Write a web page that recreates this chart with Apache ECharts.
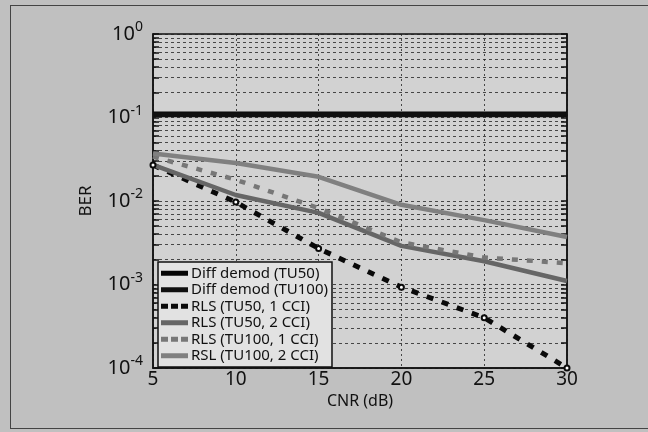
<!DOCTYPE html>
<html>
<head>
<meta charset="utf-8">
<script src="https://cdn.jsdelivr.net/npm/echarts@6/dist/echarts.min.js"></script>
<style>
  html, body { margin: 0; padding: 0; background: #c0c0c0; }
  #frame { position: absolute; left: 10px; top: 5px; width: 660px; height: 422px; border: 1px solid #444; }
  #chart { position: absolute; left: 0; top: 0; width: 648px; height: 432px; }
</style>
</head>
<body>
<div id="frame"></div>
<div id="chart"></div>
<script>
  // CNR in dB
  const cnr = [5, 10, 15, 20, 25, 30];

  // BER values
  const diffTU50 = [0.11, 0.11, 0.11, 0.11, 0.11, 0.11];
  const diffTU100 = [0.108, 0.108, 0.108, 0.108, 0.108, 0.108];
  const rlsTU50cci1 = [0.027, 0.0097, 0.0027, 0.00093, 0.0004, 0.0001];
  const rlsTU50cci2 = [0.027, 0.0118, 0.0072, 0.0029, 0.0019, 0.0011];
  const rlsTU100cci1 = [0.034, 0.018, 0.0082, 0.0032, 0.0021, 0.0018];
  const rslTU100cci2 = [0.037, 0.0285, 0.0195, 0.009, 0.0059, 0.0037];

  const names = [
    "Diff demod (TU50)",
    "Diff demod (TU100)",
    "RLS (TU50, 1 CCI)",
    "RLS (TU50, 2 CCI)",
    "RLS (TU100, 1 CCI)",
    "RSL (TU100, 2 CCI)"
  ];

  const font = "Noto Sans";
  const barIcon = "rect";
  const dashIcon = "path://M0,0h7v5h-7z M10,0h7v5h-7z M20,0h7v5h-7z";

  function pairs(values) {
    return cnr.map((x, i) => [x, values[i]]);
  }

  function line(name, values, color, width, dashed, symbol) {
    return {
      name,
      type: "line",
      data: pairs(values),
      showSymbol: !!symbol,
      symbol: symbol || "none",
      symbolSize: 5,
      itemStyle: { color: color, borderColor: color },
      lineStyle: { color, width, type: dashed || "solid", cap: "butt" },
      emphasis: { disabled: true },
      z: 3
    };
  }

  function yAxis(position, showLabels) {
    return {
      type: "log",
      logBase: 10,
      min: 1e-4,
      max: 1,
      position,
      name: showLabels ? "BER" : "",
      nameLocation: "middle",
      nameGap: 58,
      nameTextStyle: { fontFamily: font, fontSize: 17, color: "#111" },
      axisLine: { show: true, onZero: false, lineStyle: { color: "#111", width: 1.5 } },
      axisTick: { show: true, inside: true, length: 6, lineStyle: { color: "#111", width: 1.5 } },
      minorTick: { show: true, splitNumber: 9, length: 6, lineStyle: { color: "#111", width: 1.5 } },
      splitLine: { show: showLabels, lineStyle: { color: "#222", type: [3, 3], width: 0.8 } },
      minorSplitLine: { show: showLabels, lineStyle: { color: "#222", type: [3, 3], width: 0.8 } },
      axisLabel: {
        show: showLabels,
        margin: 10,
        formatter(value) {
          const exp = Math.round(Math.log10(value));
          return "{b|10}{s|" + exp + "}";
        },
        rich: {
          b: { fontFamily: font, fontSize: 20, color: "#111" },
          s: { fontFamily: font, fontSize: 14, color: "#111", padding: [0, 0, 13, 0] }
        }
      }
    };
  }

  const chart = echarts.init(document.getElementById("chart"), null, { renderer: "canvas" });

  chart.setOption({
    animation: false,
    backgroundColor: "transparent",
    grid: {
      left: 153,
      right: 81,
      top: 34,
      bottom: 64,
      show: true,
      backgroundColor: "#d2d2d2",
      borderColor: "#111",
      borderWidth: 1.5
    },
    legend: {
      orient: "vertical",
      left: 158,
      top: 262,
      padding: [3, 4, 3, 3],
      backgroundColor: "#e2e2e2",
      borderColor: "#111",
      borderWidth: 1.5,
      itemWidth: 27,
      itemHeight: 5,
      itemGap: 0,
      data: [
        { name: names[0], icon: barIcon },
        { name: names[1], icon: barIcon },
        { name: names[2], icon: dashIcon },
        { name: names[3], icon: barIcon },
        { name: names[4], icon: dashIcon },
        { name: names[5], icon: barIcon }
      ],
      textStyle: { fontFamily: font, fontSize: 15, color: "#111", lineHeight: 16.5, padding: [0, 0, 0, -2] }
    },
    xAxis: {
      type: "value",
      min: 5,
      max: 30,
      interval: 5,
      name: "CNR (dB)",
      nameLocation: "middle",
      nameGap: 22,
      nameTextStyle: { fontFamily: font, fontSize: 16, color: "#111" },
      axisLine: { lineStyle: { color: "#111", width: 1.5 } },
      axisTick: { show: false },
      splitLine: { show: true, lineStyle: { color: "#222", type: [2, 3], width: 0.8 } },
      axisLabel: { fontFamily: font, fontSize: 19, color: "#111", margin: 2 }
    },
    yAxis: [yAxis("left", true), yAxis("right", false)],
    series: [
      line(names[0], diffTU50, "#050505", 5),
      line(names[1], diffTU100, "#101010", 5),
      line(names[2], rlsTU50cci1, "#0a0a0a", 5, [7, 9], "emptyCircle"),
      line(names[3], rlsTU50cci2, "#666666", 4.5),
      line(names[4], rlsTU100cci1, "#777777", 4.5, [6, 9]),
      line(names[5], rslTU100cci2, "#808080", 4.5)
    ]
  });
</script>
</body>
</html>
